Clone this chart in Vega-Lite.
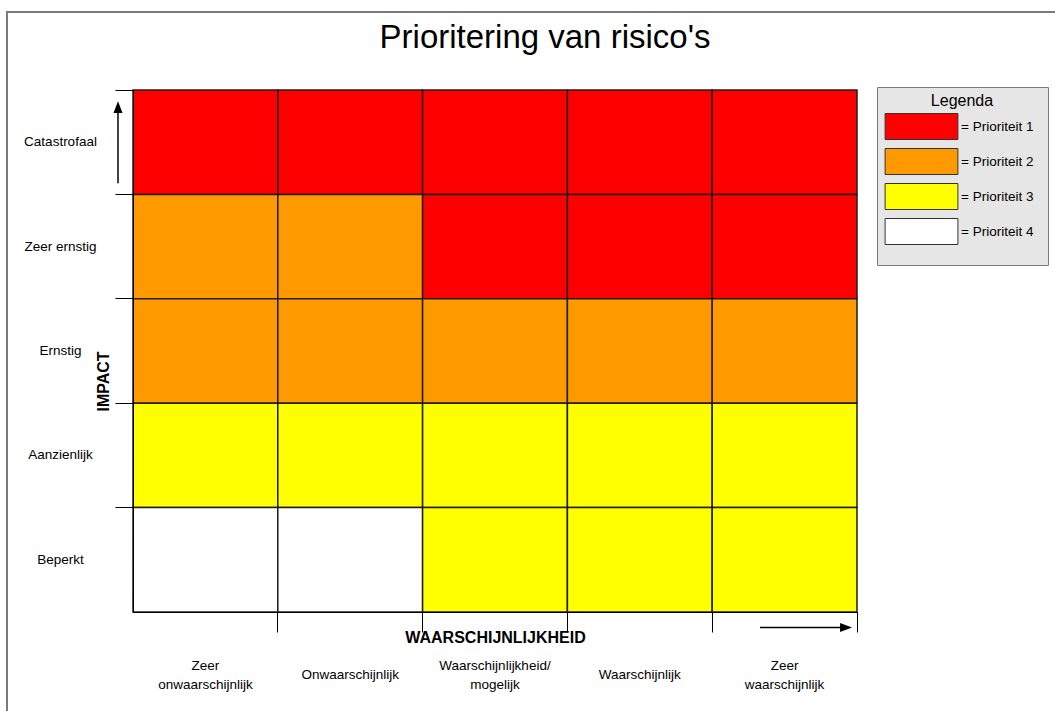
{
  "$schema": "https://vega.github.io/schema/vega-lite/v6.json",
  "autosize": {"type": "none"},
  "width": 1052,
  "height": 703,
  "padding": {"left": 7, "top": 12, "right": -4, "bottom": -4},
  "background": "white",
  "title": {
    "text": "Prioritering van risico's",
    "fontSize": 33,
    "fontWeight": "normal",
    "font": "Liberation Sans",
    "color": "black",
    "anchor": "middle",
    "frame": "group",
    "baseline": "alphabetic",
    "offset": -69,
    "dx": 12
  },
  "config": {
    "view": {"stroke": "#7a7a7a", "strokeWidth": 2},
    "font": "Liberation Sans",
    "axis": {"labelFont": "Liberation Sans", "titleFont": "Liberation Sans"},
    "legend": {"labelFont": "Liberation Sans", "titleFont": "Liberation Sans"}
  },
  "layer": [
    {
      "data": {
        "values": [
          {"impact": "Catastrofaal", "kans": "Zeer\nonwaarschijnlijk", "prioriteit": "Prioriteit 1"},
          {"impact": "Catastrofaal", "kans": "Onwaarschijnlijk", "prioriteit": "Prioriteit 1"},
          {"impact": "Catastrofaal", "kans": "Waarschijnlijkheid/\nmogelijk", "prioriteit": "Prioriteit 1"},
          {"impact": "Catastrofaal", "kans": "Waarschijnlijk", "prioriteit": "Prioriteit 1"},
          {"impact": "Catastrofaal", "kans": "Zeer\nwaarschijnlijk", "prioriteit": "Prioriteit 1"},
          {"impact": "Zeer ernstig", "kans": "Zeer\nonwaarschijnlijk", "prioriteit": "Prioriteit 2"},
          {"impact": "Zeer ernstig", "kans": "Onwaarschijnlijk", "prioriteit": "Prioriteit 2"},
          {"impact": "Zeer ernstig", "kans": "Waarschijnlijkheid/\nmogelijk", "prioriteit": "Prioriteit 1"},
          {"impact": "Zeer ernstig", "kans": "Waarschijnlijk", "prioriteit": "Prioriteit 1"},
          {"impact": "Zeer ernstig", "kans": "Zeer\nwaarschijnlijk", "prioriteit": "Prioriteit 1"},
          {"impact": "Ernstig", "kans": "Zeer\nonwaarschijnlijk", "prioriteit": "Prioriteit 2"},
          {"impact": "Ernstig", "kans": "Onwaarschijnlijk", "prioriteit": "Prioriteit 2"},
          {"impact": "Ernstig", "kans": "Waarschijnlijkheid/\nmogelijk", "prioriteit": "Prioriteit 2"},
          {"impact": "Ernstig", "kans": "Waarschijnlijk", "prioriteit": "Prioriteit 2"},
          {"impact": "Ernstig", "kans": "Zeer\nwaarschijnlijk", "prioriteit": "Prioriteit 2"},
          {"impact": "Aanzienlijk", "kans": "Zeer\nonwaarschijnlijk", "prioriteit": "Prioriteit 3"},
          {"impact": "Aanzienlijk", "kans": "Onwaarschijnlijk", "prioriteit": "Prioriteit 3"},
          {"impact": "Aanzienlijk", "kans": "Waarschijnlijkheid/\nmogelijk", "prioriteit": "Prioriteit 3"},
          {"impact": "Aanzienlijk", "kans": "Waarschijnlijk", "prioriteit": "Prioriteit 3"},
          {"impact": "Aanzienlijk", "kans": "Zeer\nwaarschijnlijk", "prioriteit": "Prioriteit 3"},
          {"impact": "Beperkt", "kans": "Zeer\nonwaarschijnlijk", "prioriteit": "Prioriteit 4"},
          {"impact": "Beperkt", "kans": "Onwaarschijnlijk", "prioriteit": "Prioriteit 4"},
          {"impact": "Beperkt", "kans": "Waarschijnlijkheid/\nmogelijk", "prioriteit": "Prioriteit 3"},
          {"impact": "Beperkt", "kans": "Waarschijnlijk", "prioriteit": "Prioriteit 3"},
          {"impact": "Beperkt", "kans": "Zeer\nwaarschijnlijk", "prioriteit": "Prioriteit 3"}
        ]
      },
      "mark": {"type": "rect", "stroke": "#1e1e1e", "strokeWidth": 1.5, "opacity": 1},
      "encoding": {
        "x": {
          "field": "kans",
          "type": "nominal",
          "sort": ["Zeer\nonwaarschijnlijk", "Onwaarschijnlijk", "Waarschijnlijkheid/\nmogelijk", "Waarschijnlijk", "Zeer\nwaarschijnlijk"],
          "scale": {"range": [126, 850], "paddingInner": 0, "paddingOuter": 0},
          "axis": {
            "orient": "bottom",
            "offset": -103,
            "bandPosition": 1,
            "tickSize": 20,
            "tickColor": "black",
            "tickWidth": 1,
            "domainColor": "black",
            "labelAngle": 0,
            "labelAlign": "center",
            "labelBaseline": "middle",
            "labelPadding": {"condition": {"test": "indexof(datum.value, '\\n') >= 0", "value": 33}, "value": 42},
            "labelFontSize": 13.5,
            "labelColor": "black",
            "labelLineHeight": 19,
            "labelExpr": "split(datum.label, '\\n')",
            "labelOverlap": false,
            "grid": false,
            "title": "WAARSCHIJNLIJKHEID",
            "titleFontSize": 16,
            "titleFontWeight": "bold",
            "titleColor": "black",
            "titleX": 488,
            "titleY": 25,
            "titleAlign": "center",
            "titleBaseline": "middle"
          }
        },
        "y": {
          "field": "impact",
          "type": "nominal",
          "sort": ["Catastrofaal", "Zeer ernstig", "Ernstig", "Aanzienlijk", "Beperkt"],
          "scale": {"range": [78, 600], "paddingInner": 0, "paddingOuter": 0},
          "axis": {
            "orient": "left",
            "offset": -126,
            "bandPosition": 0,
            "tickSize": 18,
            "tickColor": "black",
            "tickWidth": 1,
            "domainColor": "black",
            "labelAlign": "center",
            "labelBaseline": "middle",
            "labelPadding": 55,
            "labelFontSize": 13.5,
            "labelColor": "black",
            "labelOverlap": false,
            "grid": false,
            "title": "IMPACT",
            "titleFontSize": 16,
            "titleFontWeight": "bold",
            "titleColor": "black",
            "titleAngle": -90,
            "titleX": -30,
            "titleY": 369,
            "titleAlign": "center",
            "titleBaseline": "middle"
          }
        },
        "color": {
          "field": "prioriteit",
          "type": "nominal",
          "scale": {
            "domain": ["Prioriteit 1", "Prioriteit 2", "Prioriteit 3", "Prioriteit 4"],
            "range": ["#ff0000", "#ff9900", "#ffff00", "#ffffff"]
          },
          "legend": {
            "orient": "none",
            "legendX": 870,
            "legendY": 75,
            "direction": "vertical",
            "title": "Legenda",
            "titleFontSize": 16,
            "titleFontWeight": "normal",
            "titleColor": "black",
            "titleAnchor": "middle",
            "titleAlign": "center",
            "titleBaseline": "middle",
            "titlePadding": -4,
            "padding": 14,
            "fillColor": "#e6e6e6",
            "strokeColor": "#7a7a7a",
            "symbolType": "M-2.8,-1H2.8V1H-2.8Z M0,1.3",
            "symbolSize": 676,
            "symbolStrokeColor": "#333333",
            "symbolStrokeWidth": 1,
            "symbolOpacity": 1,
            "symbolOffset": 17,
            "labelOffset": 26,
            "labelFontSize": 13.5,
            "labelColor": "black",
            "labelExpr": "'= ' + datum.label",
            "rowPadding": 0
          }
        }
      }
    },
    {
      "data": {"values": [{}]},
      "mark": {
        "type": "point",
        "shape": "M0,-1L0.11,-0.71L0.018,-0.71L0.018,1L-0.018,1L-0.018,-0.71L-0.11,-0.71Z",
        "filled": true,
        "color": "black",
        "opacity": 1,
        "size": 6724
      },
      "encoding": {
        "x": {"datum": "Zeer\nonwaarschijnlijk", "type": "nominal", "bandPosition": -0.1036},
        "y": {"datum": "Catastrofaal", "type": "nominal", "bandPosition": 0.5}
      }
    },
    {
      "data": {"values": [{}]},
      "mark": {
        "type": "point",
        "shape": "M1,0L0.74,-0.098L0.74,-0.016L-1,-0.016L-1,0.016L0.74,0.016L0.74,0.098Z",
        "filled": true,
        "color": "black",
        "opacity": 1,
        "size": 8464
      },
      "encoding": {
        "x": {"datum": "Zeer\nwaarschijnlijk", "type": "nominal", "bandPosition": 0.648},
        "y": {"datum": "Beperkt", "type": "nominal", "bandPosition": 1.149}
      }
    }
  ]
}
